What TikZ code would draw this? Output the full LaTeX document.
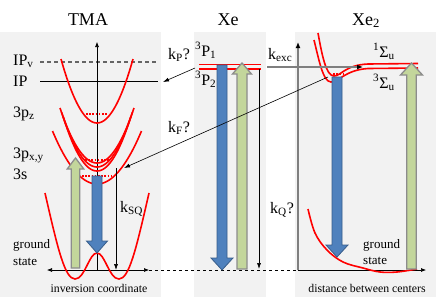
\documentclass[tikz,border=0pt]{standalone}
\usepackage{fontspec}
\setmainfont{Liberation Serif}
\usetikzlibrary{arrows.meta}
\definecolor{panel}{HTML}{F2F2F2}
\definecolor{grn}{HTML}{C3D69B}
\definecolor{gborder}{HTML}{8C8C8C}
\definecolor{blu}{HTML}{4F81BD}
\definecolor{bborder}{HTML}{385D8A}
\definecolor{axgray}{HTML}{7F7F7F}
\newcommand\upblock[6]{% cx, half shaft, half head, bottom, head base, tip
  \draw[greenarr] ({#1-#2},#4) -- ({#1-#2},#5) -- ({#1-#3},#5) -- (#1,#6) -- ({#1+#3},#5) -- ({#1+#2},#5) -- ({#1+#2},#4) -- cycle;}
\newcommand\downblock[6]{% cx, half shaft, half head, top, head base, tip
  \draw[bluearr] ({#1-#2},#4) -- ({#1-#2},#5) -- ({#1-#3},#5) -- (#1,#6) -- ({#1+#3},#5) -- ({#1+#2},#5) -- ({#1+#2},#4) -- cycle;}
\begin{document}
\begin{tikzpicture}[x=1pt,y=-1pt,
  lbl/.style={font=\fontsize{16}{18}\selectfont, inner sep=0pt, anchor=base west},
  ttl/.style={font=\fontsize{18}{20}\selectfont, inner sep=0pt, anchor=base},
  small/.style={font=\fontsize{13}{15}\selectfont, inner sep=0pt, anchor=base west},
  axlbl/.style={font=\fontsize{11.8}{14}\selectfont, inner sep=0pt, anchor=base},
  axis/.style={line width=0.6pt, -{Latex[length=5pt,width=4pt]}},
  pes/.style={red, line width=1.6pt},
  lvl/.style={red, line width=1.5pt, dash pattern=on 1.6pt off 1.6pt},
  greenarr/.style={fill=grn, draw=gborder, line width=1.3pt, line join=miter},
  bluearr/.style={fill=blu, draw=bborder, line width=0.8pt, line join=miter},
  rate/.style={line width=0.6pt, -{Latex[length=6pt,width=4pt]}},
]
\path[use as bounding box] (0,0) rectangle (436,303);
% panels
\fill[panel] (0,32) rectangle (161,297);
\fill[panel] (194,32) rectangle (266,297);
\fill[panel] (295,32) rectangle (436,297);
% titles
\node[ttl] (tTMA) at (88,25) {TMA};
\node[ttl] (tXe) at (228,25) {Xe};
\node[ttl] (tXe2) at (366,25) {Xe\textsubscript{2}};
% TMA level lines
\coordinate (ipvA) at (40,62); \coordinate (ipvB) at (158,62);
\coordinate (ipA) at (40,81); \coordinate (ipB) at (158,81);
\draw[axgray!80!black, line width=1.2pt, dash pattern=on 4pt off 3pt] (ipvA) -- (ipvB);
\draw[line width=0.8pt] (ipA) -- (ipB);
% TMA axes
\coordinate (tmaO) at (97,270); \coordinate (tmaTop) at (97,42);
\coordinate (tmaL) at (47,270); \coordinate (tmaR) at (149,270);
\draw[axis] (tmaO) -- (tmaTop);
\draw[axis, {Latex[length=5pt,width=4pt]}-{Latex[length=5pt,width=4pt]}] (tmaL) -- (tmaR);
% Xe2 axes
\coordinate (xO) at (298,270); \coordinate (xTop) at (298,42); \coordinate (xR) at (426,270);
\draw[axgray, line width=1.6pt, -{Latex[length=6pt,width=5pt,color=black]}] (xO) -- (xTop);
\draw[axis] (xO) -- (xR);
% dashed baseline
\draw[line width=0.7pt, dash pattern=on 3pt off 3pt] (tmaR) -- (xO);
% TMA potential curves
\draw[pes] plot[domain=-36:36,samples=50] ({97+\x},{123-64*(\x/36)*(\x/36)});
\draw[pes] plot[domain=-37:37,samples=50] ({97+\x},{163-55*(\x/37)*(\x/37)});
\draw[pes] plot[domain=-35.5:35.5,samples=50] ({97+\x},{167-55*(\x/35.5)*(\x/35.5)});
\draw[pes] plot[domain=-34:34,samples=50] ({97+\x},{171-55*(\x/34)*(\x/34)});
\draw[pes] plot[domain=-44.5:44.5,samples=50] ({97+\x},{184-53*(\x/44.5)*(\x/44.5)});
\draw[lvl] (86,114) -- (108,114);
\draw[lvl] (85,160) -- (109,160);
\draw[lvl] (82,176) -- (111,176);
\draw[pes] (45,193) .. controls (58,250) and (65,279) .. (75,279) .. controls (85,279) and (89,253) .. (97,253) .. controls (105,253) and (109,279) .. (119,279) .. controls (129,279) and (136,250) .. (149,193);
% Xe levels
\draw[pes, line width=1.8pt] (199,64.5) -- (261,64.5);
\draw[pes, line width=1.8pt] (199,68.8) -- (261,68.8);
% Xe2 curves
\draw[pes] (318,33) .. controls (322,55) and (326,76) .. (334,76) .. controls (341,76) and (345,65) .. (368,64) -- (418,63.5);
\draw[pes] (314,40) .. controls (319,60) and (323,82) .. (331,82) .. controls (339,82) and (345,70) .. (368,68.5) -- (418,68);
\draw[lvl] (333,74) -- (343,74);
\draw[pes] plot[smooth, tension=0.6] coordinates {(308,209) (315,233) (327,250) (343,262) (363,268) (380,272) (397,272) (417,269)};
% k_exc line
\coordinate (excA) at (267,67); \coordinate (excB) at (363,67);
\draw[axgray, line width=1.5pt, -{Latex[length=6pt,width=5pt,color=black]}] (excA) -- (excB);
% block arrows
\upblock{75.5}{4.3}{8.3}{268}{169}{158}
\downblock{97}{5}{10.5}{176}{241}{253}
\downblock{222}{5}{11}{65}{258}{270}
\upblock{242}{5}{9.5}{269}{74}{63}
\downblock{337}{5}{11}{77}{245}{257}
\upblock{411.5}{4.7}{11}{269}{75}{63}
% rate arrows
\coordinate (kpS) at (195,68); \coordinate (kpE) at (163,82);
\draw[rate] (kpS) -- (kpE);
\coordinate (kfS) at (328,77); \coordinate (kfE) at (124,168);
\draw[rate] (kfS) -- (kfE);
\coordinate (ksqS) at (116,168); \coordinate (ksqE) at (116,270);
\draw[rate] (ksqS) -- (ksqE);
\coordinate (kqS) at (259,69); \coordinate (kqE) at (259,269);
\draw[rate] (kqS) -- (kqE);
% labels TMA
\node[lbl] (lIPv) at (13,65) {IP\textsubscript{v}};
\node[lbl] (lIP) at (13,86) {IP};
\node[lbl] (l3pz) at (13,117) {3p\textsubscript{z}};
\node[lbl] (l3pxy) at (13,158) {3p\textsubscript{x,y}};
\node[lbl] (l3s) at (13,179) {3s};
\node[lbl] (lksq) at (120,212) {k\textsubscript{SQ}};
\node[small] (gs1) at (13,248) {ground};
\node[small] (gs2) at (13,265) {state};
\node[axlbl] (inv) at (99,292) {inversion coordinate};
% labels Xe
\node[lbl] (lkp) at (168,59) {k\textsubscript{P}?};
\node[lbl] (lkf) at (168,132) {k\textsubscript{F}?};
\node[lbl] (l3P1) at (195,56) {\textsuperscript{3}P\textsubscript{1}};
\node[lbl] (l3P2) at (195,85) {\textsuperscript{3}P\textsubscript{2}};
\node[lbl] (lkq) at (270,213) {k\textsubscript{Q}?};
\node[lbl] (lkexc) at (268,59) {k\textsubscript{exc}};
% labels Xe2
\node[lbl] (l1S) at (373,57) {\textsuperscript{1}Σ\textsubscript{u}};
\node[lbl] (l3S) at (373,88) {\textsuperscript{3}Σ\textsubscript{u}};
\node[small] (gs3) at (363,248) {ground};
\node[small] (gs4) at (363,264) {state};
\node[axlbl] (dist) at (367,292) {distance between centers};
\end{tikzpicture}
\end{document}
